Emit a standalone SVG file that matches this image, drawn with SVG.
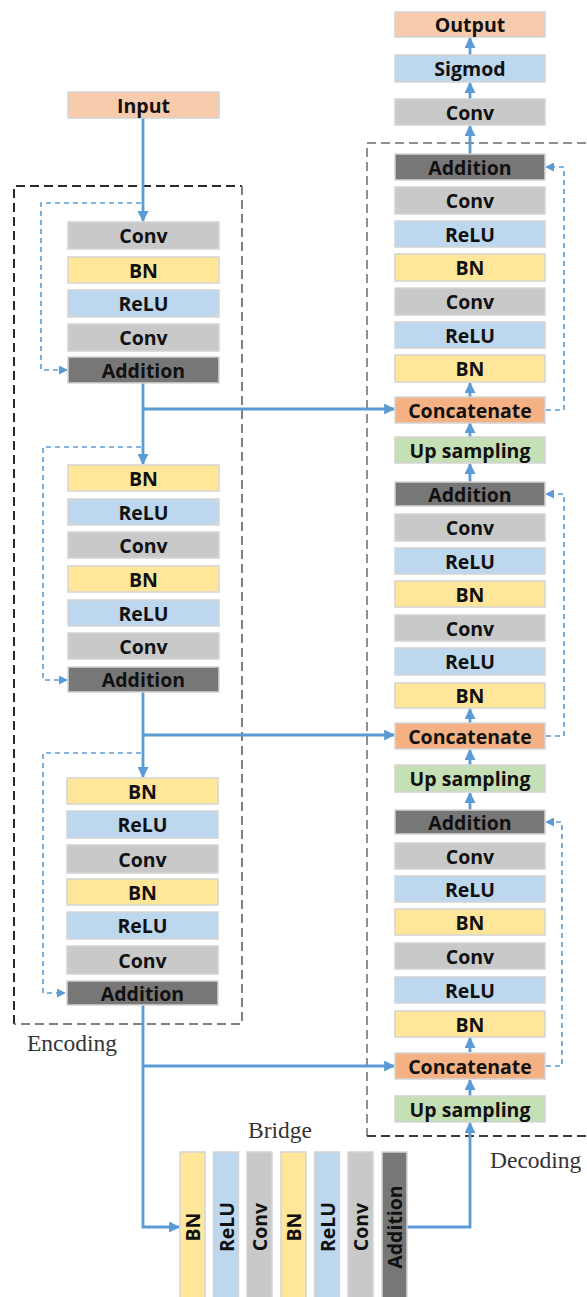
<svg xmlns="http://www.w3.org/2000/svg" width="587" height="1297" viewBox="0 0 587 1297">
<defs>
<style>
.b{stroke:#D4D4D4;stroke-width:1.5}
.conv{fill:#C9C9C9}.bn{fill:#FFE699}.relu{fill:#BDD7EE}.add{fill:#777777}
.io{fill:#F8CBAD}.cat{fill:#F4B183}.up{fill:#C5E0B4}
.t{font-family:"Open Sans","DejaVu Sans",sans-serif;font-weight:700;font-size:19.5px;fill:#111;text-anchor:middle;dominant-baseline:central}
.lbl{font-family:"Liberation Serif","Times New Roman",serif;font-size:23.5px;fill:#333}
.m{fill:none;stroke:#5B9BD5;stroke-width:2.8}
.d{fill:none;stroke:#5B9BD5;stroke-width:1.6;stroke-dasharray:5 4}
.bx{fill:none;stroke-width:2;stroke-dasharray:9 5}
</style>
<marker id="ah" viewBox="0 0 10 10" refX="9" refY="5" markerWidth="11" markerHeight="11" markerUnits="userSpaceOnUse" orient="auto"><path d="M0,0 L10,5 L0,10 z" fill="#5B9BD5"/></marker>
<marker id="as" viewBox="0 0 10 10" refX="9" refY="5" markerWidth="9" markerHeight="9" markerUnits="userSpaceOnUse" orient="auto"><path d="M0,0 L10,5 L0,10 z" fill="#5B9BD5"/></marker>
</defs>
<rect width="587" height="1297" fill="#fff"/>

<g id="frames">
<path class="bx" d="M14,1024 V186 H242" stroke="#2a2a2a"/>
<path class="bx" d="M242,186 V1024 H14" stroke="#808080"/>
<path class="bx" d="M600,143 H367 V1136" stroke="#8f8f8f"/>
<path class="bx" d="M367,1136 H600" stroke="#3a3a3a"/>
<text class="lbl" x="27" y="1051">Encoding</text>
<text class="lbl" x="280" y="1138" text-anchor="middle">Bridge</text>
<text class="lbl" x="490" y="1168">Decoding</text>
</g>

<g id="connectors">
<path class="m" d="M143,118 V221" marker-end="url(#ah)"/>
<path class="m" d="M143,383 V464" marker-end="url(#ah)"/>
<path class="m" d="M143,692 V777" marker-end="url(#ah)"/>
<path class="m" d="M143,1005 V1227 H179" marker-end="url(#ah)"/>
<path class="m" d="M143,409 H394" marker-end="url(#ah)"/>
<path class="m" d="M143,735 H394" marker-end="url(#ah)"/>
<path class="m" d="M143,1066 H394" marker-end="url(#ah)"/>
<path class="m" d="M407,1227 H470 V1123" marker-end="url(#ah)"/>
<path class="m" d="M470,1096 V1080" marker-end="url(#ah)"/>
<path class="m" d="M470,1052 V1038" marker-end="url(#ah)"/>
<path class="m" d="M470,810 V793" marker-end="url(#ah)"/>
<path class="m" d="M470,765 V750" marker-end="url(#ah)"/>
<path class="m" d="M470,723 V709" marker-end="url(#ah)"/>
<path class="m" d="M470,482 V464" marker-end="url(#ah)"/>
<path class="m" d="M470,437 V423" marker-end="url(#ah)"/>
<path class="m" d="M470,397 V383" marker-end="url(#ah)"/>
<path class="m" d="M470,154 V126" marker-end="url(#ah)"/>
<path class="m" d="M470,99 V83" marker-end="url(#ah)"/>
<path class="m" d="M470,55 V38" marker-end="url(#ah)"/>
<path class="d" d="M141,203 H41 V370 H67" marker-end="url(#as)"/>
<path class="d" d="M141,447 H43 V680 H67" marker-end="url(#as)"/>
<path class="d" d="M141,753 H43 V993 H65" marker-end="url(#as)"/>
<path class="d" d="M546,410 H564 V167 H546" marker-end="url(#as)"/>
<path class="d" d="M546,736 H564 V494 H546" marker-end="url(#as)"/>
<path class="d" d="M546,1066 H562 V822 H546" marker-end="url(#as)"/>
</g>

<g id="input"><rect class="b io" x="68" y="92" width="151" height="26"/><text class="t" x="143.5" y="105">Input</text></g>

<g id="enc1">
<rect class="b conv" x="68" y="222" width="151" height="27"/><text class="t" x="143.5" y="235.5">Conv</text>
<rect class="b bn" x="68" y="257" width="151" height="26"/><text class="t" x="143.5" y="270">BN</text>
<rect class="b relu" x="68" y="290" width="151" height="27"/><text class="t" x="143.5" y="303.5">ReLU</text>
<rect class="b conv" x="68" y="324" width="151" height="27"/><text class="t" x="143.5" y="337.5">Conv</text>
<rect class="b add" x="68" y="357" width="151" height="26"/><text class="t" x="143.5" y="370">Addition</text>
</g>

<g id="enc2">
<rect class="b bn" x="68" y="465" width="151" height="26"/><text class="t" x="143.5" y="478">BN</text>
<rect class="b relu" x="68" y="499" width="151" height="26"/><text class="t" x="143.5" y="512">ReLU</text>
<rect class="b conv" x="68" y="532" width="151" height="26"/><text class="t" x="143.5" y="545">Conv</text>
<rect class="b bn" x="68" y="566" width="151" height="26"/><text class="t" x="143.5" y="579">BN</text>
<rect class="b relu" x="68" y="600" width="151" height="26"/><text class="t" x="143.5" y="613">ReLU</text>
<rect class="b conv" x="68" y="633" width="151" height="26"/><text class="t" x="143.5" y="646">Conv</text>
<rect class="b add" x="68" y="667" width="151" height="25"/><text class="t" x="143.5" y="679.5">Addition</text>
</g>

<g id="enc3">
<rect class="b bn" x="67" y="778" width="151" height="26"/><text class="t" x="142.5" y="791">BN</text>
<rect class="b relu" x="67" y="811" width="151" height="27"/><text class="t" x="142.5" y="824.5">ReLU</text>
<rect class="b conv" x="67" y="845" width="151" height="28"/><text class="t" x="142.5" y="859">Conv</text>
<rect class="b bn" x="67" y="879" width="151" height="26"/><text class="t" x="142.5" y="892">BN</text>
<rect class="b relu" x="67" y="912" width="151" height="27"/><text class="t" x="142.5" y="925.5">ReLU</text>
<rect class="b conv" x="67" y="946" width="151" height="28"/><text class="t" x="142.5" y="960">Conv</text>
<rect class="b add" x="67" y="981" width="151" height="24"/><text class="t" x="142.5" y="993">Addition</text>
</g>

<g id="bridge">
<rect class="b bn" x="180" y="1152" width="25" height="150"/><text class="t" transform="rotate(-90 192.5 1227)" x="192.5" y="1227">BN</text>
<rect class="b relu" x="213.5" y="1152" width="25" height="150"/><text class="t" transform="rotate(-90 226 1227)" x="226" y="1227">ReLU</text>
<rect class="b conv" x="247" y="1152" width="25" height="150"/><text class="t" transform="rotate(-90 259.5 1227)" x="259.5" y="1227">Conv</text>
<rect class="b bn" x="281" y="1152" width="25" height="150"/><text class="t" transform="rotate(-90 293.5 1227)" x="293.5" y="1227">BN</text>
<rect class="b relu" x="314.5" y="1152" width="25" height="150"/><text class="t" transform="rotate(-90 327 1227)" x="327" y="1227">ReLU</text>
<rect class="b conv" x="348" y="1152" width="25" height="150"/><text class="t" transform="rotate(-90 360.5 1227)" x="360.5" y="1227">Conv</text>
<rect class="b add" x="382" y="1152" width="25" height="150"/><text class="t" transform="rotate(-90 394.5 1227)" x="394.5" y="1227">Addition</text>
</g>

<g id="dec3">
<rect class="b up" x="395" y="1096" width="150" height="26"/><text class="t" x="470" y="1109">Up sampling</text>
<rect class="b cat" x="395" y="1053" width="150" height="26"/><text class="t" x="470" y="1066">Concatenate</text>
<rect class="b bn" x="395" y="1011" width="150" height="26"/><text class="t" x="470" y="1024">BN</text>
<rect class="b relu" x="395" y="977" width="150" height="26"/><text class="t" x="470" y="990">ReLU</text>
<rect class="b conv" x="395" y="943" width="150" height="26"/><text class="t" x="470" y="956">Conv</text>
<rect class="b bn" x="395" y="909" width="150" height="26"/><text class="t" x="470" y="922">BN</text>
<rect class="b relu" x="395" y="876" width="150" height="26"/><text class="t" x="470" y="889">ReLU</text>
<rect class="b conv" x="395" y="843" width="150" height="26"/><text class="t" x="470" y="856">Conv</text>
<rect class="b add" x="395" y="810" width="150" height="24"/><text class="t" x="470" y="822">Addition</text>
</g>

<g id="dec2">
<rect class="b up" x="395" y="765" width="150" height="27"/><text class="t" x="470" y="778.5">Up sampling</text>
<rect class="b cat" x="395" y="723" width="150" height="26"/><text class="t" x="470" y="736">Concatenate</text>
<rect class="b bn" x="395" y="683" width="150" height="25"/><text class="t" x="470" y="695.5">BN</text>
<rect class="b relu" x="395" y="648" width="150" height="27"/><text class="t" x="470" y="661.5">ReLU</text>
<rect class="b conv" x="395" y="615" width="150" height="26"/><text class="t" x="470" y="628">Conv</text>
<rect class="b bn" x="395" y="581" width="150" height="26"/><text class="t" x="470" y="594">BN</text>
<rect class="b relu" x="395" y="548" width="150" height="26"/><text class="t" x="470" y="561">ReLU</text>
<rect class="b conv" x="395" y="514" width="150" height="27"/><text class="t" x="470" y="527.5">Conv</text>
<rect class="b add" x="395" y="482" width="150" height="24"/><text class="t" x="470" y="494">Addition</text>
</g>

<g id="dec1">
<rect class="b up" x="395" y="437" width="150" height="26"/><text class="t" x="470" y="450">Up sampling</text>
<rect class="b cat" x="395" y="397" width="150" height="26"/><text class="t" x="470" y="410">Concatenate</text>
<rect class="b bn" x="395" y="355" width="150" height="27"/><text class="t" x="470" y="368.5">BN</text>
<rect class="b relu" x="395" y="322" width="150" height="26"/><text class="t" x="470" y="335">ReLU</text>
<rect class="b conv" x="395" y="288" width="150" height="27"/><text class="t" x="470" y="301.5">Conv</text>
<rect class="b bn" x="395" y="254" width="150" height="27"/><text class="t" x="470" y="267.5">BN</text>
<rect class="b relu" x="395" y="221" width="150" height="26"/><text class="t" x="470" y="234">ReLU</text>
<rect class="b conv" x="395" y="187" width="150" height="27"/><text class="t" x="470" y="200.5">Conv</text>
<rect class="b add" x="395" y="154" width="150" height="26"/><text class="t" x="470" y="167">Addition</text>
</g>

<g id="head">
<rect class="b conv" x="395" y="99" width="150" height="26"/><text class="t" x="470" y="112">Conv</text>
<rect class="b relu" x="395" y="55" width="150" height="27"/><text class="t" x="470" y="68.5">Sigmod</text>
<rect class="b io" x="395" y="12" width="150" height="25"/><text class="t" x="470" y="24.5">Output</text>
</g>
</svg>
